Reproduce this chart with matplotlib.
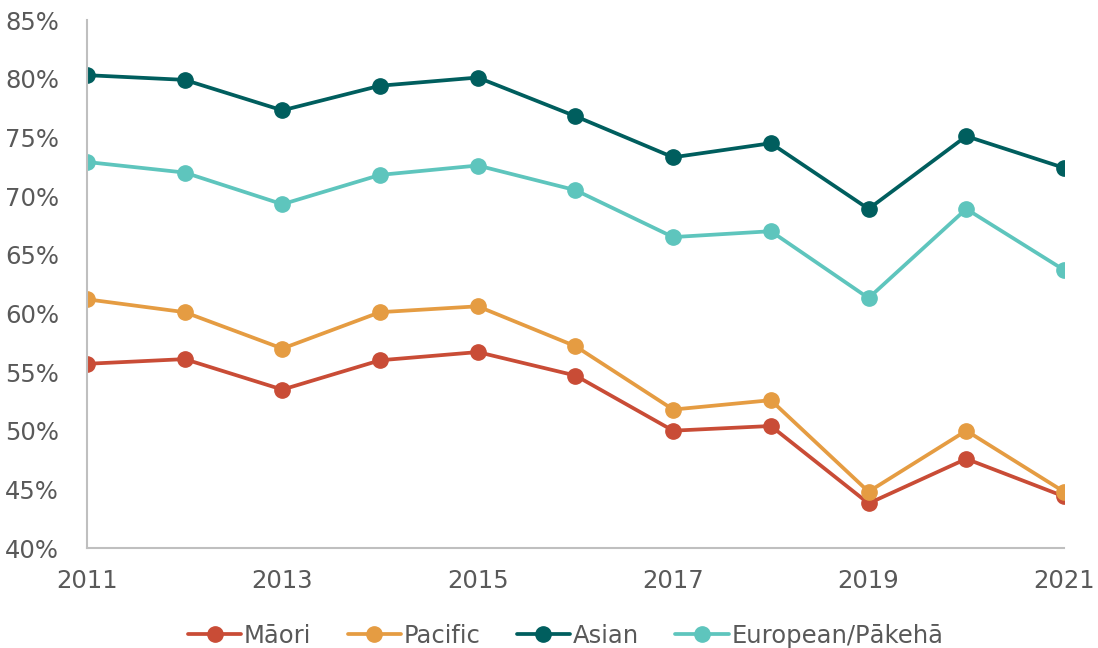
import matplotlib
matplotlib.use('Agg')
import matplotlib.pyplot as plt
from matplotlib.ticker import FuncFormatter

# Data (percent)
years = [2011, 2012, 2013, 2014, 2015, 2016, 2017, 2018, 2019, 2020, 2021]
maori    = [55.7, 56.1, 53.5, 56.0, 56.7, 54.7, 50.0, 50.4, 43.8, 47.6, 44.4]
pacific  = [61.2, 60.1, 57.0, 60.1, 60.6, 57.2, 51.8, 52.6, 44.8, 50.0, 44.8]
asian    = [80.3, 79.9, 77.3, 79.4, 80.1, 76.8, 73.3, 74.5, 68.9, 75.1, 72.4]
european = [72.9, 72.0, 69.3, 71.8, 72.6, 70.5, 66.5, 67.0, 61.3, 68.9, 63.7]

series = [
    ('Māori', maori, '#C94C36'),
    ('Pacific', pacific, '#E59C42'),
    ('Asian', asian, '#005E5E'),
    ('European/Pākehā', european, '#5EC5BD'),
]

fig = plt.figure(figsize=(10.98, 6.48), dpi=100)
ax = fig.add_axes([0.0792, 0.1543, 0.8898, 0.8148])

for name, vals, col in series:
    ax.plot(years, vals, color=col, linewidth=2.7, marker='o',
            markersize=11, label=name, solid_capstyle='round')

ax.set_xlim(2011, 2021)
ax.set_ylim(40, 85)
ax.set_xticks([2011, 2013, 2015, 2017, 2019, 2021])
ax.set_yticks(range(40, 86, 5))
ax.yaxis.set_major_formatter(FuncFormatter(lambda v, p: f'{v:.0f}%'))

ax.tick_params(length=0, labelsize=17.5, labelcolor='#595959')
ax.tick_params(axis='x', pad=15)
ax.tick_params(axis='y', pad=20)

for s in ['top', 'right']:
    ax.spines[s].set_visible(False)
for s in ['left', 'bottom']:
    ax.spines[s].set_color('#BFBFBF')
    ax.spines[s].set_linewidth(1.5)

leg = fig.legend(loc='lower center', bbox_to_anchor=(0.515, -0.033), ncol=4,
                 frameon=False, fontsize=17.5, handlelength=2.2,
                 handletextpad=0.1, columnspacing=1.5)
for t in leg.get_texts():
    t.set_color('#595959')

fig.savefig('out.png', dpi=100)
